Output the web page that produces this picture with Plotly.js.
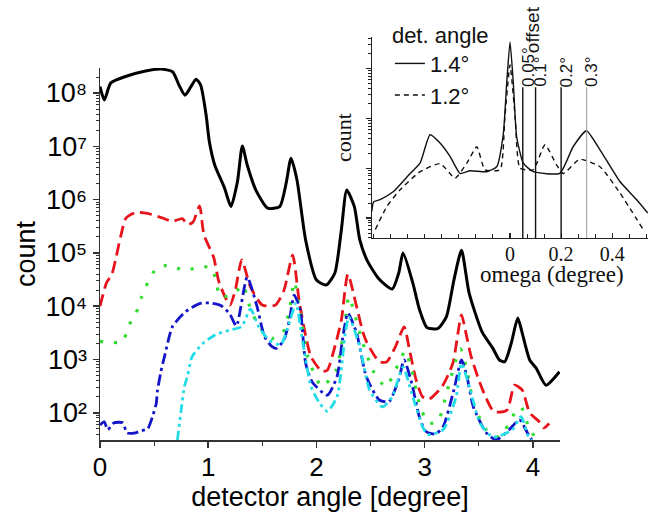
<!DOCTYPE html>
<html>
<head>
<meta charset="utf-8">
<script src="https://cdn.plot.ly/plotly-3.0.1.min.js"></script>
<style>html,body{margin:0;padding:0;background:#fff;}#chart{width:648px;height:514px;}</style>
</head>
<body>
<div id="chart"></div>
<script>
// ---- main chart data: detector angle [degree] vs count ----
const blackX = [0, 0.04, 0.10, 0.25, 0.41, 0.56, 0.67, 0.73, 0.785, 0.84, 0.887, 0.93, 0.98, 1.01, 1.06, 1.15, 1.21, 1.27, 1.315, 1.36, 1.44, 1.55, 1.66, 1.72, 1.765, 1.82, 1.90, 2.00, 2.09, 2.17, 2.23, 2.28, 2.35, 2.40, 2.47, 2.58, 2.70, 2.76, 2.80, 2.89, 2.95, 3.02, 3.12, 3.20, 3.27, 3.34, 3.41, 3.53, 3.63, 3.69, 3.74, 3.80, 3.86, 3.90, 3.97, 4.03, 4.12, 4.245];
const blackY = [1.32e8, 7.4e7, 1.55e8, 2.09e8, 2.57e8, 2.82e8, 2.51e8, 1.41e8, 9.1e7, 1.32e8, 1.82e8, 1.41e8, 3.9e7, 1.23e7, 4.47e6, 1.66e6, 7.4e5, 2.19e6, 1.02e7, 4.47e6, 1.51e6, 6.9e5, 7.4e5, 2.04e6, 6.0e6, 2.34e6, 1.74e5, 3.1e4, 2.5e4, 4.2e4, 2.7e5, 1.51e6, 7.4e5, 1.78e5, 7.1e4, 3.2e4, 2.1e4, 4.2e4, 1.0e5, 2.75e4, 8.9e3, 4.0e3, 3.8e3, 6.3e3, 3.1e4, 1.12e5, 1.78e4, 3.3e3, 1.62e3, 980, 910, 2.04e3, 6.0e3, 3.2e3, 980, 690, 330, 590];

const redX = [0.00, 0.06, 0.11, 0.15, 0.19, 0.24, 0.33, 0.44, 0.58, 0.67, 0.76, 0.81, 0.86, 0.92, 0.96, 1.05, 1.10, 1.20, 1.25, 1.31, 1.39, 1.50, 1.62, 1.70, 1.78, 1.84, 1.90, 1.95, 2.05, 2.10, 2.17, 2.23, 2.29, 2.37, 2.43, 2.47, 2.58, 2.65, 2.73, 2.81, 2.86, 2.92, 2.98, 3.04, 3.16, 3.26, 3.34, 3.38, 3.43, 3.535, 3.64, 3.76, 3.83, 3.90, 3.97, 4.05, 4.10, 4.15];
const redY = [1.0e4, 2.75e4, 4.0e4, 8.5e4, 2.0e5, 4.5e5, 5.75e5, 5.5e5, 4.5e5, 3.9e5, 4.4e5, 3.4e5, 3.8e5, 7.6e5, 2.2e5, 8.3e4, 2.8e4, 1.05e4, 2.0e4, 7.4e4, 2.3e4, 1.05e4, 1.05e4, 2.0e4, 9.1e4, 1.26e4, 2.8e3, 1.12e3, 600, 630, 1.74e3, 5.5e3, 4.0e4, 1.0e4, 3.2e3, 2.0e3, 910, 910, 1.74e3, 4.1e3, 1.5e3, 420, 200, 180, 310, 850, 6.9e3, 3.2e3, 1.12e3, 270, 105, 112, 330, 270, 100, 71, 52, 63];

const greenX = [0.00, 0.06, 0.21, 0.26, 0.33, 0.38, 0.44, 0.52, 0.64, 0.78, 0.93, 1.03, 1.07, 1.11, 1.20, 1.27, 1.32, 1.39, 1.47, 1.59, 1.69, 1.75, 1.795, 1.85, 1.92, 2.05, 2.18, 2.26, 2.30, 2.41, 2.52, 2.64, 2.76, 2.82, 2.88, 2.95, 3.03, 3.12, 3.21, 3.33, 3.39, 3.45, 3.57, 3.69, 3.84, 3.89, 3.96, 4.03];
const greenY = [2190, 2140, 2140, 4170, 7080, 1.41e4, 2.75e4, 5.1e4, 5.9e4, 4.7e4, 5.5e4, 5.25e4, 3.1e4, 1.51e4, 1.58e4, 2.0e4, 2.5e4, 8.9e3, 4.2e3, 2.5e3, 3.2e3, 8.5e3, 2.9e4, 7.4e3, 1.12e3, 310, 630, 4.2e3, 1.51e4, 2.7e3, 630, 310, 850, 1.45e3, 630, 151, 65, 68, 270, 1.58e3, 630, 151, 48, 35, 105, 129, 55, 32];

const blueX = [0.00, 0.04, 0.07, 0.13, 0.21, 0.25, 0.33, 0.36, 0.44, 0.485, 0.52, 0.53, 0.56, 0.595, 0.67, 0.79, 0.92, 1.01, 1.12, 1.20, 1.26, 1.36, 1.45, 1.52, 1.59, 1.63, 1.70, 1.75, 1.795, 1.85, 1.90, 1.96, 2.10, 2.19, 2.24, 2.29, 2.37, 2.46, 2.58, 2.67, 2.76, 2.81, 2.88, 2.95, 3.01, 3.10, 3.17, 3.27, 3.34, 3.39, 3.45, 3.57, 3.66, 3.78, 3.875, 3.95, 3.99];
const blueY = [59, 68, 48, 65, 65, 42, 42, 45, 50, 85, 151, 250, 560, 1120, 4170, 7900, 1.12e4, 1.15e4, 1.02e4, 7100, 4270, 3.5e4, 1.0e4, 2.7e3, 1.74e3, 1.62e3, 2.34e3, 5.5e3, 1.62e4, 8.5e3, 850, 380, 214, 480, 2.34e3, 7.4e3, 3.2e3, 480, 174, 162, 420, 980, 360, 85, 45, 40, 55, 270, 980, 480, 129, 42, 31, 48, 74, 42, 31];

const cyanX = [0.715, 0.75, 0.78, 0.81, 0.85, 0.95, 1.07, 1.195, 1.31, 1.39, 1.47, 1.56, 1.67, 1.75, 1.81, 1.87, 1.95, 2.03, 2.10, 2.19, 2.27, 2.30, 2.40, 2.49, 2.61, 2.70, 2.80, 2.88, 2.98, 3.03, 3.17, 3.29, 3.34, 3.42, 3.51, 3.63, 3.81, 3.89, 3.96, 4.0];
const cyanY = [31, 112, 310, 500, 1120, 2000, 2950, 3550, 4170, 8900, 4000, 2340, 1900, 5000, 1.15e4, 2340, 310, 151, 107, 200, 3550, 6300, 1740, 270, 129, 200, 720, 234, 55, 39, 48, 200, 850, 270, 65, 35, 48, 85, 35, 28];

// y tick labels of the main chart
const yTickVals = [1e2, 1e3, 1e4, 1e5, 1e6, 1e7, 1e8];
const yTickText = ['10²', '10³', '10⁴', '10⁵', '10⁶', '10⁷', '10⁸'];

// ---- inset data: omega (degree) vs count ----
const insetX14 = [-0.541, -0.534, -0.508, -0.456, -0.39, -0.352, -0.313, -0.273, -0.234, -0.195, -0.156, -0.091, -0.052, -0.026, -0.013, 0, 0.013, 0.026, 0.052, 0.091, 0.195, 0.247, 0.299, 0.352, 0.43, 0.495, 0.539];
const insetY14 = [13.5, 21, 23.5, 34, 79, 126, 468, 316, 170, 78, 89, 85, 107, 500, 5000, 33900, 5000, 427, 126, 85, 79, 269, 562, 234, 54, 23.5, 12.6];
const insetX12 = [-0.527, -0.482, -0.43, -0.352, -0.273, -0.215, -0.169, -0.13, -0.098, -0.039, -0.02, 0, 0.02, 0.039, 0.091, 0.137, 0.182, 0.208, 0.273, 0.352, 0.43, 0.521];
const insetY12 = [5.9, 17, 37, 85, 123, 63, 126, 269, 93, 93, 1070, 11700, 1070, 100, 93, 295, 117, 78, 151, 107, 32, 5.9];

const offsets = [0.05, 0.1, 0.2, 0.3];
const offsetLabels = ['0.05°', '0.1°', '0.2°', '0.3°'];
const offsetColors = ['#111', '#111', '#111', '#9a9a9a'];
const legendNames = ['1.4°', '1.2°'];
const insetXTickVals = [0, 0.2, 0.4];
const insetXTickText = ['0', '0.2', '0.4'];

const SANS = 'Liberation Sans, Arial, sans-serif';
const SERIF = 'Liberation Serif, Times New Roman, serif';

function mainTrace(x, y, color, dash, width) {
  return {x: x, y: y, xaxis: 'x', yaxis: 'y', type: 'scatter', mode: 'lines',
    line: {color: color, dash: dash, width: width, shape: 'spline', smoothing: 0.6},
    showlegend: false, hoverinfo: 'skip'};
}

const traces = [
  mainTrace(blackX, blackY, '#000000', 'solid', 3),
  mainTrace(redX, redY, '#e8141c', '12px,6px', 2.8),
  mainTrace(greenX, greenY, '#2fdc2f', '3px,11px', 3.2),
  mainTrace(blueX, blueY, '#1414c8', '11px,4px,3px,4px', 2.8),
  mainTrace(cyanX, cyanY, '#22dde8', '9px,4px,3px,4px,3px,4px', 2.8),
  {x: insetX14, y: insetY14, xaxis: 'x2', yaxis: 'y2', type: 'scatter', mode: 'lines',
   name: legendNames[0], line: {color: '#111', width: 1.4, shape: 'spline', smoothing: 0.5}, hoverinfo: 'skip'},
  {x: insetX12, y: insetY12, xaxis: 'x2', yaxis: 'y2', type: 'scatter', mode: 'lines',
   name: legendNames[1], line: {color: '#111', width: 1.4, dash: '5px,4px', shape: 'spline', smoothing: 0.5}, hoverinfo: 'skip'}
];

const shapes = offsets.map((v, i) => ({
  type: 'line', xref: 'x2', yref: 'y2 domain', x0: v, x1: v, y0: 0, y1: 0.75,
  line: {color: offsetColors[i], width: i === 3 ? 1 : 1.4}
}));

const annotations = offsets.map((v, i) => ({
  xref: 'x2', yref: 'y2 domain', x: v, y: 0.74, xanchor: 'center', yanchor: 'bottom',
  xshift: 5, text: offsetLabels[i], textangle: -90, showarrow: false,
  font: {family: SANS, size: 17, color: '#111'}
}));
annotations.push({
  xref: 'x2', yref: 'y2 domain', x: 0.1, y: 0.91, xanchor: 'center', yanchor: 'bottom',
  xshift: -3, text: 'offset', textangle: -90, showarrow: false,
  font: {family: SANS, size: 19, color: '#111'}
});
annotations.push({
  xref: 'x2', yref: 'y2 domain', x: 0.164, y: -0.183, xanchor: 'center', yanchor: 'middle',
  text: 'omega (degree)', showarrow: false,
  font: {family: SERIF, size: 23, color: '#111'}
});

const layout = {
  width: 648, height: 514,
  margin: {l: 100, r: 0, t: 37, b: 74, pad: 0},
  paper_bgcolor: '#ffffff', plot_bgcolor: 'rgba(0,0,0,0)',
  font: {family: SANS, color: '#000'},
  showlegend: true,
  legend: {x: 0.529, y: 1.057, xanchor: 'left', yanchor: 'top', bgcolor: 'rgba(0,0,0,0)',
    font: {family: SANS, size: 22, color: '#111'}, tracegroupgap: 0,
    title: {text: 'det. angle', font: {family: SANS, size: 22, color: '#111'}}},
  xaxis: {domain: [0, 0.8394], range: [0, 4.25], anchor: 'y',
    showline: true, linecolor: '#333', linewidth: 1.5, mirror: false,
    ticks: 'outside', ticklen: 6, tickwidth: 1.5, tickcolor: '#333', tick0: 0, dtick: 1,
    ticklabelstandoff: -3,
    minor: {dtick: 0.5, ticks: 'outside', ticklen: 4, tickwidth: 1.2, tickcolor: '#333', showgrid: false},
    showgrid: false, zeroline: false, tickfont: {size: 26, family: SANS},
    title: {text: 'detector angle [degree]', font: {size: 27, family: SANS}, standoff: 4}},
  yaxis: {domain: [0, 0.9231], type: 'log', range: [1.49, 8.47], anchor: 'x',
    showline: true, linecolor: '#333', linewidth: 1.5,
    ticks: 'outside', ticklen: 6, tickwidth: 1.5, tickcolor: '#333',
    tickvals: yTickVals, ticktext: yTickText,
    minor: {dtick: 'D1', ticks: 'outside', ticklen: 3, tickwidth: 1, tickcolor: '#333', showgrid: false},
    showgrid: false, zeroline: false, tickfont: {size: 27, family: SANS},
    title: {text: 'count', font: {size: 27, family: SANS}, standoff: 2}},
  xaxis2: {domain: [0.4964, 1], range: [-0.54, 0.54], anchor: 'y2',
    showline: true, linecolor: '#222', linewidth: 1.3,
    ticks: 'inside', ticklen: 5, tickwidth: 1.2, tickcolor: '#222',
    tickvals: insetXTickVals, ticktext: insetXTickText, ticklabelstandoff: -2,
    minor: {dtick: 0.2 / 3, tick0: 0, ticks: 'inside', ticklen: 4, tickwidth: 1, tickcolor: '#222', showgrid: false},
    showgrid: false, zeroline: false, tickfont: {size: 20, family: SERIF, color: '#111'}},
  yaxis2: {domain: [0.5012, 1], type: 'log', range: [0.6, 4.63], anchor: 'x2',
    showline: true, linecolor: '#222', linewidth: 1.3,
    ticks: 'outside', ticklen: 5, tickwidth: 1.2, tickcolor: '#222', dtick: 1,
    minor: {dtick: 'D1', ticks: 'outside', ticklen: 3, tickwidth: 1, tickcolor: '#222', showgrid: false},
    showticklabels: false, showgrid: false, zeroline: false,
    title: {text: 'count', font: {size: 22, family: SERIF, color: '#111'}, standoff: 8}},
  shapes: shapes,
  annotations: annotations
};

Plotly.newPlot('chart', traces, layout, {staticPlot: true, displayModeBar: false});
</script>
</body>
</html>
